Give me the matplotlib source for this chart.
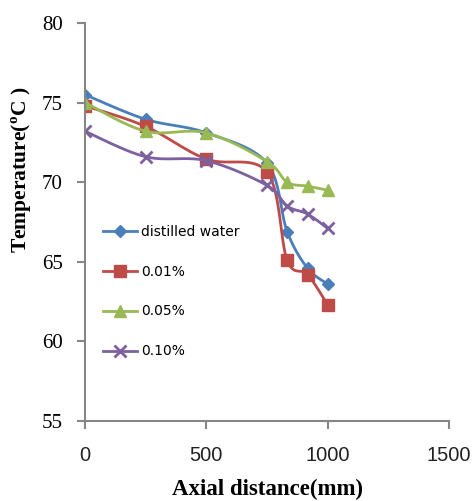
import matplotlib
matplotlib.use("Agg")
import matplotlib.pyplot as plt
import numpy as np

plt.rcParams['mathtext.fontset'] = 'custom'
plt.rcParams['mathtext.rm'] = 'Liberation Serif:bold'
plt.rcParams['mathtext.bf'] = 'Liberation Serif:bold'

# Data
x = [0, 250, 500, 750, 833, 917, 1000]
distilled = [75.5, 73.95, 73.1, 71.2, 66.9, 64.6, 63.6]
c001 = [74.8, 73.5, 71.45, 70.65, 65.1, 64.2, 62.3]
c005 = [75.0, 73.2, 73.1, 71.3, 70.0, 69.75, 69.5]
c010 = [73.2, 71.6, 71.35, 69.8, 68.5, 68.0, 67.1]

labels = ['distilled water', '0.01%', '0.05%', '0.10%']
colors = ['#4a7ebb', '#be4b48', '#98b954', '#7d60a0']
markers = ['D', 's', '^', 'x']
msizes = [6, 8, 8, 8]


def smooth(xs, ys, n=20):
    # Catmull-Rom style smoothing like Excel's "smoothed line"
    xs = np.asarray(xs, float)
    ys = np.asarray(ys, float)
    px = np.concatenate([[xs[0]], xs, [xs[-1]]])
    py = np.concatenate([[ys[0]], ys, [ys[-1]]])
    ox, oy = [], []
    for i in range(1, len(px) - 2):
        p0 = np.array([px[i - 1], py[i - 1]])
        p1 = np.array([px[i], py[i]])
        p2 = np.array([px[i + 1], py[i + 1]])
        p3 = np.array([px[i + 2], py[i + 2]])
        c1 = p1 + (p2 - p0) / 6
        c2 = p2 - (p3 - p1) / 6
        t = np.linspace(0, 1, n)[:, None]
        pts = ((1 - t) ** 3) * p1 + 3 * ((1 - t) ** 2) * t * c1 + 3 * (1 - t) * t ** 2 * c2 + t ** 3 * p2
        ox.extend(pts[:, 0])
        oy.extend(pts[:, 1])
    return ox, oy


fig = plt.figure(figsize=(4.76, 5.01), dpi=100)
ax = fig.add_axes([85 / 476, 80 / 501, 364 / 476, 398 / 501])

for ys, lab, col, mk, ms in zip([distilled, c001, c005, c010], labels, colors, markers, msizes):
    sx, sy = smooth(x, ys)
    ax.plot(sx, sy, color=col, lw=2, solid_capstyle='round')
    ax.plot(x, ys, linestyle='none', marker=mk, color=col, ms=ms, mew=2 if mk == 'x' else 1)
    ax.plot([], [], color=col, lw=2, marker=mk, ms=ms, mew=2 if mk == 'x' else 1, label=lab)

ax.set_xlim(0, 1500)
ax.set_ylim(55, 80)
ax.set_xticks([0, 500, 1000, 1500])
ax.set_yticks([55, 60, 65, 70, 75, 80])

for s in ['top', 'right']:
    ax.spines[s].set_visible(False)
for s in ['left', 'bottom']:
    ax.spines[s].set_color('#868686')
    ax.spines[s].set_linewidth(1.5)
ax.tick_params(axis='both', colors='#868686', length=6, width=1.5, labelcolor='black',
               labelsize=15, pad=10)
ax.tick_params(axis='x', pad=12)
for t in ax.get_yticklabels():
    t.set_fontfamily('Liberation Serif')
for t in ax.get_xticklabels():
    t.set_fontfamily('Liberation Sans')
    t.set_fontsize(14.5)
    t.set_color('#222222')

ax.set_xlabel('Axial distance(mm)', fontfamily='Liberation Serif', fontweight='bold',
              fontsize=16.5, labelpad=10)
ax.set_ylabel(r'Temperature($^{\rm o}$C )', fontfamily='Liberation Serif', fontweight='bold',
              fontsize=15.5)
ax.yaxis.set_label_coords(-51 / 364, (421 - 170) / 398)

leg = ax.legend(loc='upper left', bbox_to_anchor=(0.016, 0.525), frameon=False,
                prop={'family': ['Liberation Sans Narrow', 'DejaVu Sans'], 'size': 10},
                labelspacing=1.87, handlelength=2.4, handletextpad=0.3)

fig.savefig('out.png', dpi=100)
